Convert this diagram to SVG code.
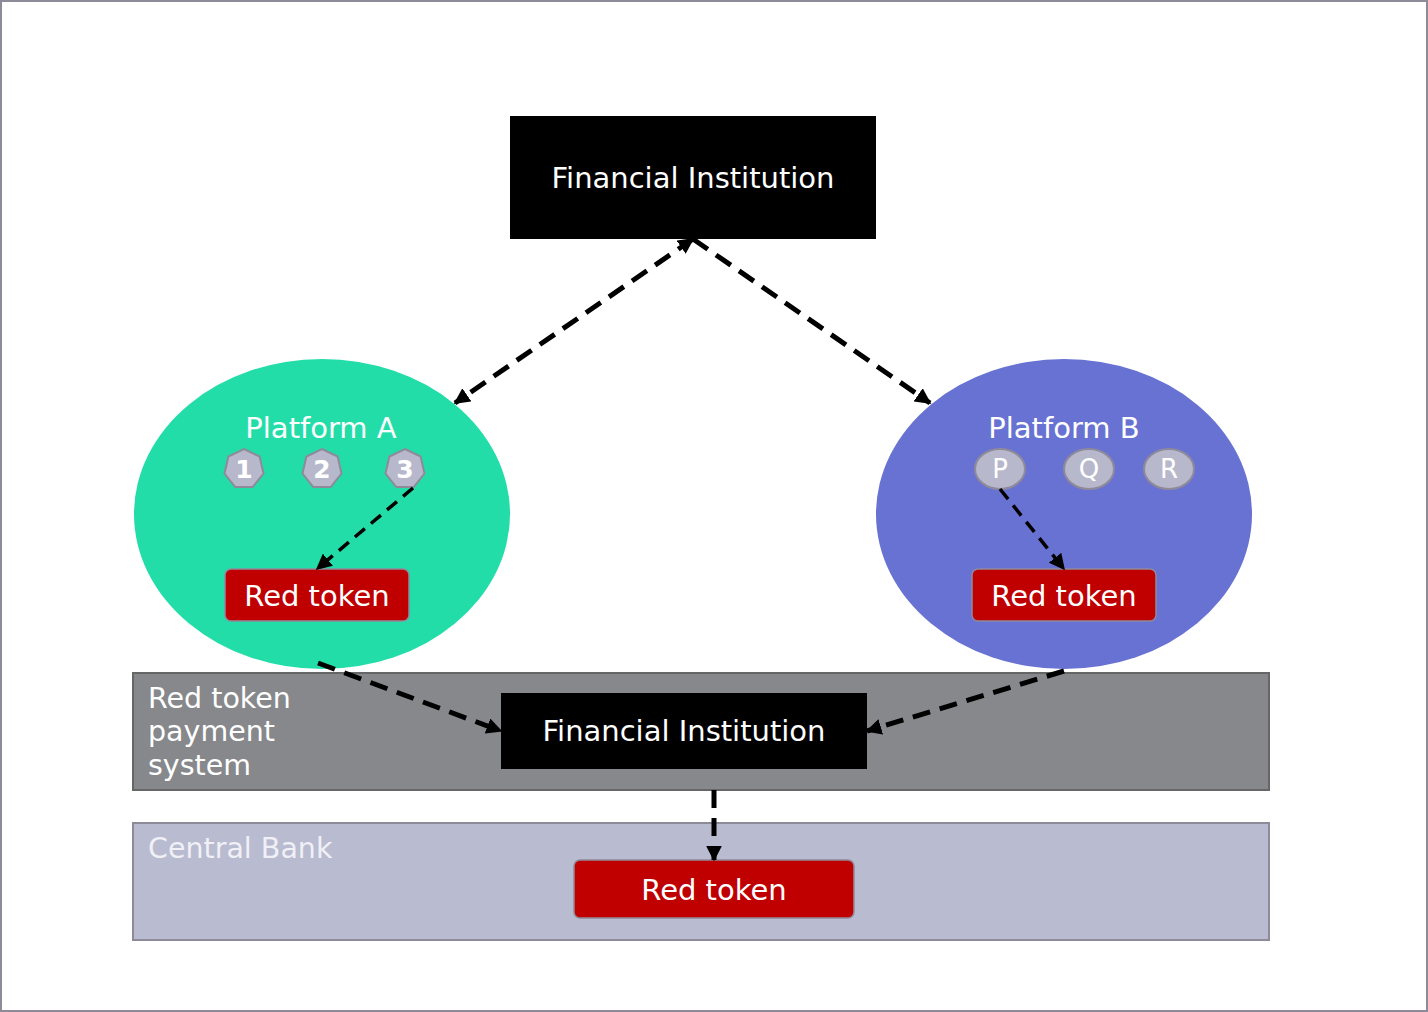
<svg xmlns="http://www.w3.org/2000/svg" width="1428" height="1012" viewBox="0 0 1428 1012">
<style>
text{font-family:"DejaVu Sans","Liberation Sans",sans-serif;fill:#ffffff}
.fi{fill:#000000}
.rt{fill:#c00000;stroke:#8e8a9a;stroke-width:1.5}
.hep{fill:#b8b8cc;stroke:#8e8a9a;stroke-width:2}
.c{stroke:#000;fill:none;stroke-width:5;stroke-dasharray:18 10}
.ct{stroke:#000;fill:none;stroke-width:3.5;stroke-dasharray:13 8}
.lbl{font-size:29px;text-anchor:middle;dominant-baseline:central}
.side{font-size:28.5px;dominant-baseline:central}
.ch{font-size:25px;font-weight:bold;text-anchor:middle;dominant-baseline:central}
.cl{font-size:26px;text-anchor:middle;dominant-baseline:central}
</style>
<defs>
<marker id="ah" viewBox="0 0 10 10" refX="9" refY="5" markerWidth="16" markerHeight="16" markerUnits="userSpaceOnUse" orient="auto-start-reverse">
<path d="M0,0 L10,5 L0,10 z" fill="#000"/>
</marker>
</defs>
<rect x="1" y="1" width="1426" height="1010" fill="#ffffff" stroke="#8e8a9a" stroke-width="2"/>
<g id="payment-system">
<rect x="133" y="673" width="1136" height="117" fill="#87888c" stroke="#666666" stroke-width="2"/>
<text class="side" x="148" y="698">Red token</text>
<text class="side" x="148" y="731">payment</text>
<text class="side" x="148" y="765">system</text>
</g>
<g id="central-bank">
<rect x="133" y="823" width="1136" height="117" fill="#b9bbd0" stroke="#8e8a9a" stroke-width="2"/>
<text class="side" x="148" y="848" style="fill:#f0f0f6">Central Bank</text>
</g>
<g id="fi-top">
<rect class="fi" x="510" y="116" width="366" height="123"/>
<text class="lbl" x="693" y="178">Financial Institution</text>
</g>
<g id="platform-a">
<ellipse cx="322" cy="514" rx="188" ry="155" fill="#23dda9"/>
<text class="lbl" x="321" y="428">Platform A</text>
</g>
<g id="platform-b">
<ellipse cx="1064" cy="514" rx="188" ry="155" fill="#6872d2"/>
<text class="lbl" x="1064" y="428">Platform B</text>
</g>
<g id="node-1">
<polygon class="hep" points="244,449 259.6,456.5 263.5,473.5 252.7,487 235.3,487 224.5,473.5 228.4,456.5"/>
<text class="ch" x="244" y="469">1</text>
</g>
<g id="node-2">
<polygon class="hep" points="322,449 337.6,456.5 341.5,473.5 330.7,487 313.3,487 302.5,473.5 306.4,456.5"/>
<text class="ch" x="322" y="469">2</text>
</g>
<g id="node-3">
<polygon class="hep" points="405,449 420.6,456.5 424.5,473.5 413.7,487 396.3,487 385.5,473.5 389.4,456.5"/>
<text class="ch" x="405" y="469">3</text>
</g>
<g id="node-p">
<ellipse class="hep" cx="1000" cy="469" rx="25" ry="20"/>
<text class="cl" x="1000" y="469">P</text>
</g>
<g id="node-q">
<ellipse class="hep" cx="1089" cy="469" rx="25" ry="20"/>
<text class="cl" x="1089" y="469">Q</text>
</g>
<g id="node-r">
<ellipse class="hep" cx="1169" cy="469" rx="25" ry="20"/>
<text class="cl" x="1169" y="469">R</text>
</g>
<g id="red-token-a">
<rect class="rt" x="225" y="569" width="184" height="52" rx="6"/>
<text class="lbl" x="317" y="596">Red token</text>
</g>
<g id="red-token-b">
<rect class="rt" x="972" y="569" width="184" height="52" rx="6"/>
<text class="lbl" x="1064" y="596">Red token</text>
</g>
<g id="fi-bottom">
<rect class="fi" x="501" y="693" width="366" height="76"/>
<text class="lbl" x="684" y="731">Financial Institution</text>
</g>
<g id="red-token-cb">
<rect class="rt" x="574" y="860" width="280" height="58" rx="6"/>
<text class="lbl" x="714" y="890">Red token</text>
</g>
<g id="connectors">
<line class="c" x1="693" y1="239" x2="455" y2="403" marker-start="url(#ah)" marker-end="url(#ah)"/>
<line class="c" x1="693" y1="239" x2="930" y2="403" marker-end="url(#ah)"/>
<line class="ct" x1="413" y1="488" x2="317" y2="569" marker-end="url(#ah)"/>
<line class="ct" x1="1000" y1="489" x2="1064" y2="569" marker-end="url(#ah)"/>
<line class="c" x1="318" y1="663" x2="501" y2="731" marker-end="url(#ah)"/>
<line class="c" x1="1064" y1="671" x2="867" y2="731" marker-end="url(#ah)"/>
<line class="c" x1="714" y1="790" x2="714" y2="860" marker-end="url(#ah)"/>
</g>
</svg>
